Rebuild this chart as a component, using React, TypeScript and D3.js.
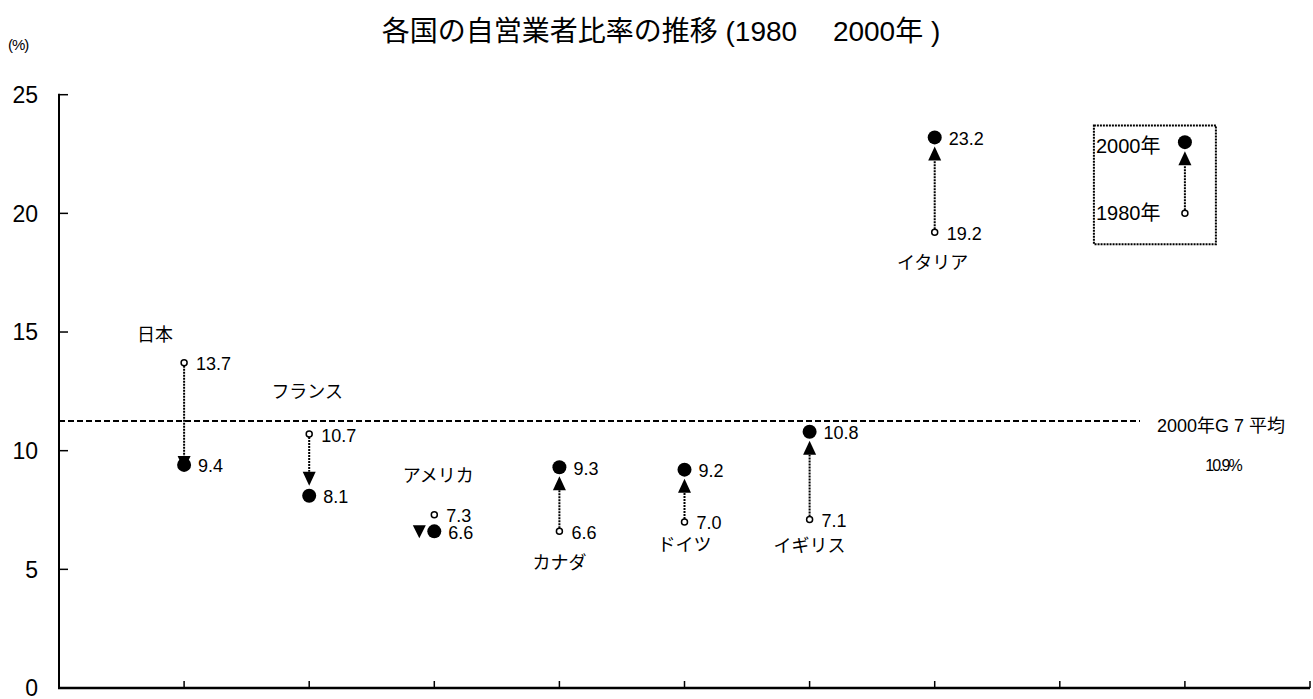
import React from "react";
import * as d3 from "d3";

const countries = ["日本", "フランス", "アメリカ", "カナダ", "ドイツ", "イギリス", "イタリア"];
const values1980 = [13.7, 10.7, 7.3, 6.6, 7.0, 7.1, 19.2];
const values2000 = [9.4, 8.1, 6.6, 9.3, 9.2, 10.8, 23.2];
const yTicks = [0, 5, 10, 15, 20, 25];
const xTickCats = [1, 2, 3, 4, 5, 6, 7, 8, 9, 10];
const g7Average = 11.25;
const g7Label = "2000年G 7 平均";
const g7ValueLabel = "10.9%";
const legendYears = ["2000年", "1980年"];
const legendValues = [23.0, 20.0];

// layout: label offsets (px) relative to the 1980 point
const countryLabelOffsets = [
  [-29, -28], [-2, -43], [4, -39], [0, 31], [0, 23], [0, 26], [-2, 30],
];

const W = 1313, H = 699;
const FONT = "'Liberation Sans', Arial, 'Noto Sans CJK JP', sans-serif";
const x = d3.scaleLinear().domain([0, 10]).range([59, 1310]);
const y = d3.scaleLinear().domain([0, 25]).range([688, 94.7]);

const R_OPEN = 3;
const R_DOT = 7;
const TRI_H = 14;
const TRI_W = 13;

function tri(cx: number, tipY: number, dir: number) {
  const base = tipY - dir * TRI_H;
  return `M${cx},${tipY}L${cx - TRI_W / 2},${base}L${cx + TRI_W / 2},${base}Z`;
}

function Arrow({ cx, v1, v2, mode }: { cx: number; v1: number; v2: number; mode: string }) {
  const y1 = y(v1), y2 = y(v2);
  const up = v2 > v1;
  if (mode === "side") {
    const tx = cx - 15;
    return (
      <path d={`M${tx},${y2 + 7}L${tx - 6.5},${y2 - 6}L${tx + 6.5},${y2 - 6}Z`} fill="#000" />
    );
  }
  let tip: number;
  if (mode === "overlap") tip = y2 + (up ? -4 : 5);
  else tip = up ? y2 + R_DOT + 2 : y2 - R_DOT - 3;
  const base = up ? tip + TRI_H : tip - TRI_H;
  const start = up ? y1 - R_OPEN : y1 + R_OPEN;
  return (
    <g>
      <line x1={cx} x2={cx} y1={start} y2={base} stroke="#000" strokeWidth={2} strokeDasharray="2,1" />
      <path d={tri(cx, tip, up ? -1 : 1)} fill="#000" />
    </g>
  );
}

const arrowModes = ["overlap", "normal", "side", "normal", "normal", "normal", "normal"];

export default function App() {
  const lx = x(9);
  return (
    <svg width={W} height={H} style={{ position: "absolute", left: 0, top: 0, background: "#fff" }} fontFamily={FONT}>
      <rect width={W} height={H} fill="#fff" />
      {/* title */}
      <text x={661} y={41} textAnchor="middle" fontSize={28} fill="#000">
        各国の自営業者比率の推移 (1980　 2000年 )
      </text>
      <text x={8} y={50} fontSize={15} fill="#000" letterSpacing={-1}>(%)</text>

      {/* y axis */}
      <line x1={x(0)} x2={x(0)} y1={y(25) - 1} y2={y(0) + 1} stroke="#000" strokeWidth={2} />
      {yTicks.map((t) => (
        <g key={t}>
          {t > 0 && <line x1={x(0)} x2={x(0) + 9} y1={y(t)} y2={y(t)} stroke="#000" strokeWidth={1.5} />}
          <text x={38} y={y(t)} dy="0.36em" textAnchor="end" fontSize={23} fill="#000">{t}</text>
        </g>
      ))}
      {/* x axis */}
      <line x1={x(0) - 1} x2={x(10)} y1={y(0)} y2={y(0)} stroke="#000" strokeWidth={2.5} />
      {xTickCats.map((c) => (
        <line key={c} x1={x(c)} x2={x(c)} y1={y(0)} y2={y(0) - 7} stroke="#000" strokeWidth={1.5} />
      ))}

      {/* G7 average */}
      <line x1={x(0)} x2={1140} y1={y(g7Average)} y2={y(g7Average)} stroke="#000" strokeWidth={2} strokeDasharray="6,3" />
      <text x={1221} y={y(g7Average) + 11} textAnchor="middle" fontSize={18} fill="#000">{g7Label}</text>
      <text x={1223} y={y(g7Average) + 50} textAnchor="middle" fontSize={16} fill="#000" letterSpacing={-2}>{g7ValueLabel}</text>

      {/* countries */}
      {countries.map((name, i) => {
        const cx = x(i + 1);
        const v1 = values1980[i], v2 = values2000[i];
        const [dx, dy] = countryLabelOffsets[i];
        return (
          <g key={name}>
            <Arrow cx={cx} v1={v1} v2={v2} mode={arrowModes[i]} />
            <circle cx={cx} cy={y(v1)} r={R_OPEN} fill="#fff" stroke="#000" strokeWidth={1.5} />
            <circle cx={cx} cy={y(v2)} r={R_DOT} fill="#000" />
            <text x={cx + 12} y={y(v1)} dy="0.42em" fontSize={18} fill="#000">{v1.toFixed(1)}</text>
            <text x={cx + 14} y={y(v2)} dy="0.42em" fontSize={18} fill="#000">{v2.toFixed(1)}</text>
            <text x={cx + dx} y={y(v1) + dy} dy="0.36em" textAnchor="middle" fontSize={18} fill="#000">{name}</text>
          </g>
        );
      })}

      {/* legend */}
      <rect x={lx - 91} y={y(23.7)} width={122} height={y(18.7) - y(23.7)} fill="none" stroke="#000" strokeWidth={2} strokeDasharray="2,1" />
      <Arrow cx={lx} v1={legendValues[1]} v2={legendValues[0]} mode="normal" />
      <circle cx={lx} cy={y(legendValues[1])} r={R_OPEN} fill="#fff" stroke="#000" strokeWidth={1.5} />
      <circle cx={lx} cy={y(legendValues[0])} r={R_DOT} fill="#000" />
      {legendYears.map((t, i) => (
        <text key={t} x={lx - 89} y={y(legendValues[i]) + (i === 0 ? 4 : -1)} dy="0.36em" fontSize={20} fill="#000">{t}</text>
      ))}
    </svg>
  );
}
